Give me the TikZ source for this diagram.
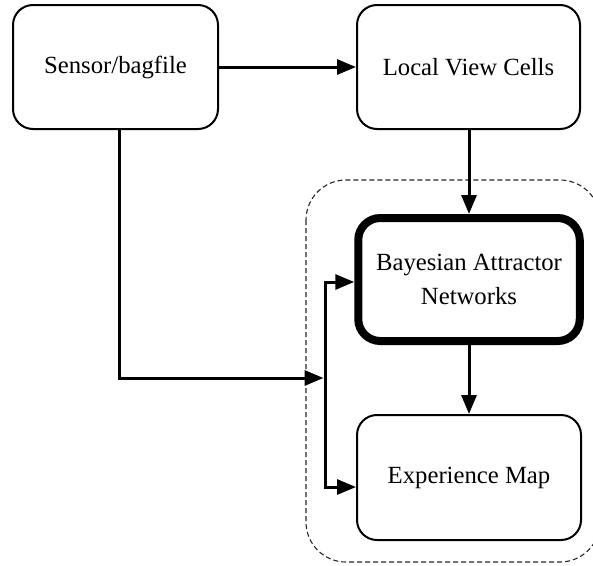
\documentclass[tikz,border=0pt]{standalone}
\usepackage{fontspec}
\setmainfont{Liberation Serif}
\usetikzlibrary{arrows.meta}
\begin{document}
\begin{tikzpicture}[x=1pt,y=-1pt,
  box/.style={draw, rounded corners=20pt, line width=2pt, align=center,
    font=\fontsize{24.7}{34}\selectfont, inner sep=0pt},
  conn/.style={line width=3pt, -{Triangle[length=19pt,width=15pt]}},
  group/.style={draw=black!85, dash pattern=on 5pt off 3pt, line width=1.1pt, rounded corners=40pt}]
\useasboundingbox (0,0) rectangle (593,565);
\draw[group] (306,180) rectangle (600,562);
\node[box, minimum width=205pt, minimum height=124pt] (sensor) at (115.5,67) {Sensor/bagfile};
\node[box, minimum width=223pt, minimum height=124pt] (lvc) at (468.5,67) {Local View Cells};
\node[box, line width=8pt, rounded corners=22pt, minimum width=221.5pt, minimum height=123pt] (ban) at (469,279.5) {Bayesian Attractor\\Networks};
\node[box, minimum width=224pt, minimum height=125pt] (em) at (469,477.5) {Experience Map};
\coordinate (turn) at (119,378);
\coordinate (jn) at (325,378);
\coordinate (jt) at (325,282);
\coordinate (jb) at (325,487);
\draw[conn] (sensor.east) -- (lvc.west);
\draw[conn] (lvc.south -| ban.north) -- (ban.north);
\draw[conn] (ban.south) -- (em.north);
\draw[conn, shorten >=1.5pt] (sensor.south -| turn) -- (turn) -- (jn);
\draw[conn] (jb) -- (jt) -- (ban.west |- jt);
\draw[conn] (jt) -- (jb) -- (em.west |- jb);
\end{tikzpicture}
\end{document}
